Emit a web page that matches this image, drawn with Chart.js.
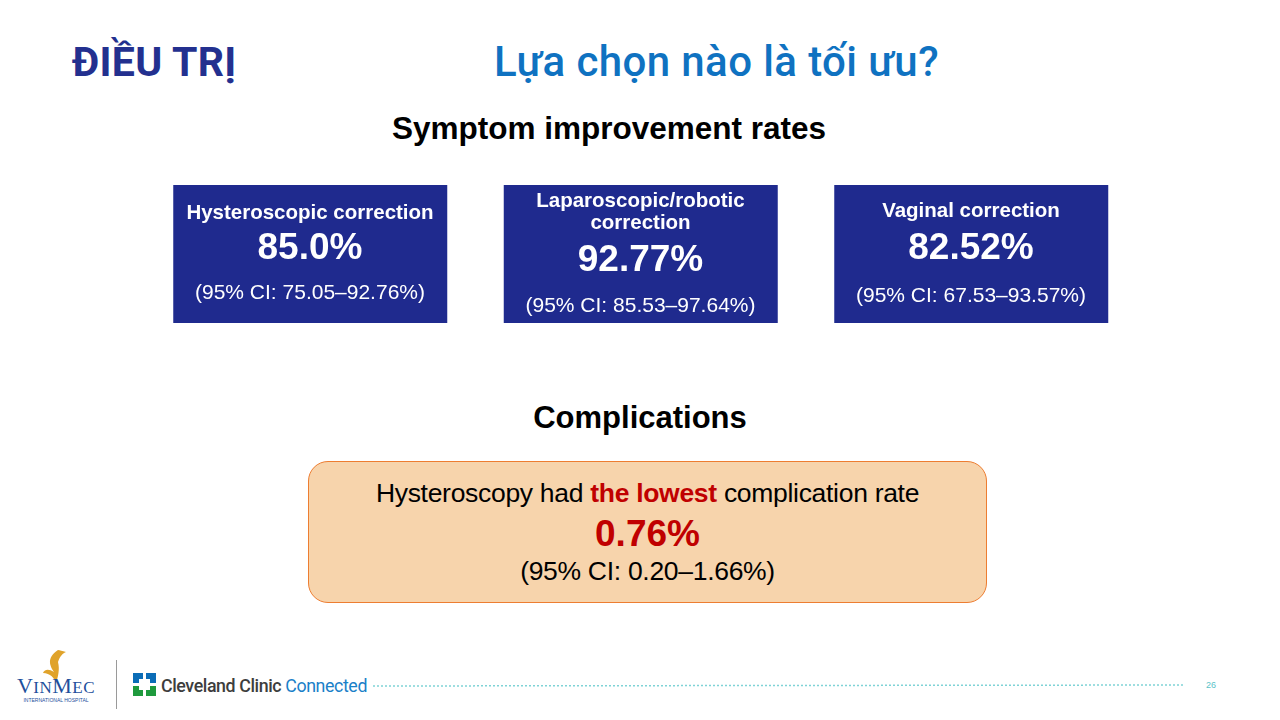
<!DOCTYPE html>
<html>
<head>
<meta charset="utf-8">
<script src="https://cdn.jsdelivr.net/npm/chart.js@4.4.1/dist/chart.umd.min.js"></script>
<style>
  body { margin: 0; width: 1280px; height: 720px; background: #fff; position: relative; overflow: hidden; font-family: "Liberation Sans", Arial, sans-serif; }
  .abs { position: absolute; }
  #title1 { left: 72px; top: 38px; font-family: Roboto, sans-serif; font-weight: 700; font-size: 41px; color: #23308f; letter-spacing: 0.3px; }
  #title2 { left: 494px; top: 37px; font-family: Roboto, sans-serif; font-weight: 500; font-size: 42px; color: #0f72c1; letter-spacing: 0.4px; }
  .heading { width: 1280px; left: 0; text-align: center; font-weight: 700; color: #000; }
  #boxWrap { left: 144.75px; top: 185px; width: 991.5px; height: 138px; }
  .boxText { color: #fff; text-align: center; width: 274px; }
  .bName { font-weight: 700; font-size: 20.5px; line-height: 22px; }
  .bRate { font-weight: 700; font-size: 37px; }
  .bCi { font-size: 21px; }
  #comp { left: 308px; top: 461px; width: 677px; height: 140px; background: #f7d4ac; border: 1px solid #ed7d31; border-radius: 20px; text-align: center; }
  .cLine { left: 0; width: 677px; font-size: 26.5px; letter-spacing: -0.3px; color: #000; }
</style>
</head>
<body>
<div id="title1" class="abs">ĐIỀU TRỊ</div>
<div id="title2" class="abs">Lựa chọn nào là tối ưu?</div>
<div class="abs heading" style="left:-31px;top:110px;font-size:31.5px;">Symptom improvement rates</div>

<div id="boxWrap" class="abs"><canvas id="boxChart"></canvas></div>
<div id="boxTexts"></div>

<div class="abs heading" style="top:400px;font-size:31px;">Complications</div>
<div id="comp" class="abs">
  <div class="abs cLine" style="top:16px;" id="compLine"></div>
  <div class="abs" style="left:0;width:677px;top:51px;font-size:37px;font-weight:700;color:#c00000;" id="compRate"></div>
  <div class="abs cLine" style="top:94px;" id="compCi"></div>
</div>

<!-- footer -->
<svg class="abs" style="left:0;top:640px" width="1280" height="80">
  <path d="M58 10 C46 18 50 26 54 32 C48 28 44 30 43 33 C50 33 55 38 56 44 C58 36 60 30 58 22 C60 16 63 13 66 12 C62 11 60 10 58 10 Z" fill="#e0a32b"/>
  <text x="56" y="53" text-anchor="middle" font-family="Liberation Serif, serif" font-size="22" fill="#1e4f9c" letter-spacing="0.5">V<tspan font-size="17">IN</tspan>M<tspan font-size="17">EC</tspan></text>
  <text x="56" y="62" text-anchor="middle" font-family="Liberation Sans, sans-serif" font-size="5" fill="#1e4f9c">INTERNATIONAL HOSPITAL</text>
  <line x1="116.5" y1="20" x2="116.5" y2="69" stroke="#9a9a9a" stroke-width="1"/>
  <rect x="133" y="33" width="10" height="10" fill="#0b6db7"/>
  <rect x="146" y="33" width="10" height="10" fill="#0b6db7"/>
  <rect x="133" y="46" width="10" height="10" fill="#1f9a3d"/>
  <rect x="146" y="46" width="10" height="10" fill="#1f9a3d"/>
  <rect x="139" y="39" width="11" height="11" fill="#fff"/>
  <text x="161" y="52" font-family="Roboto, sans-serif" font-size="17.8" font-weight="500" fill="#3d3d3d" letter-spacing="-0.4">Cleveland Clinic <tspan fill="#1a80c8" font-weight="400">Connected</tspan></text>
  <line x1="373" y1="46" x2="1185" y2="45" stroke="#7fd3d6" stroke-width="1.5" stroke-dasharray="2 2"/>
  <text x="1206" y="48" font-family="Liberation Sans, sans-serif" font-size="9" fill="#5cc3c8">26</text>
</svg>

<script>
const methods = [["Hysteroscopic correction"], ["Laparoscopic/robotic", "correction"], ["Vaginal correction"]];
const rates = ["85.0", "92.77", "82.52"];
const ciLow = ["75.05", "85.53", "67.53"];
const ciHigh = ["92.76", "97.64", "93.57"];
const boxSpan = [[0, 1], [0, 1], [0, 1]];

const compRate = "0.76";
const compCiLow = "0.20";
const compCiHigh = "1.66";

// the three blue panels are bars of a hidden-axis bar chart
new Chart(document.getElementById("boxChart"), {
  type: "bar",
  data: {
    labels: methods.map((m) => m.join(" ")),
    datasets: [{
      data: boxSpan,
      backgroundColor: "#1f2a8e",
      borderWidth: 0,
      barPercentage: 1,
      categoryPercentage: 274 / 330.5,
    }],
  },
  options: {
    responsive: true,
    maintainAspectRatio: false,
    animation: false,
    layout: { padding: 0 },
    plugins: { legend: { display: false }, tooltip: { enabled: false } },
    scales: {
      x: { display: false },
      y: { display: false, min: 0, max: 1 },
    },
  },
});

// text over each panel
const centers = [310, 640.5, 971];
const nameTop = [201, 189, 199];
const rateTop = [226, 238, 226];
const ciTop = [280, 293, 283];
const boxTexts = document.getElementById("boxTexts");
for (let i = 0; i < methods.length; i++) {
  const left = centers[i] - 137;
  const name = document.createElement("div");
  name.className = "abs boxText bName";
  name.style.left = left + "px";
  name.style.top = nameTop[i] + "px";
  name.innerHTML = methods[i].join("<br>");
  boxTexts.appendChild(name);

  const rate = document.createElement("div");
  rate.className = "abs boxText bRate";
  rate.style.left = left + "px";
  rate.style.top = rateTop[i] + "px";
  rate.textContent = rates[i] + "%";
  boxTexts.appendChild(rate);

  const ci = document.createElement("div");
  ci.className = "abs boxText bCi";
  ci.style.left = left + "px";
  ci.style.top = ciTop[i] + "px";
  ci.textContent = "(95% CI: " + ciLow[i] + "\u2013" + ciHigh[i] + "%)";
  boxTexts.appendChild(ci);
}

document.getElementById("compLine").innerHTML =
  'Hysteroscopy had <b style="color:#c00000">the lowest</b> complication rate';
document.getElementById("compRate").textContent = compRate + "%";
document.getElementById("compCi").textContent = "(95% CI: " + compCiLow + "\u2013" + compCiHigh + "%)";
</script>
</body>
</html>
